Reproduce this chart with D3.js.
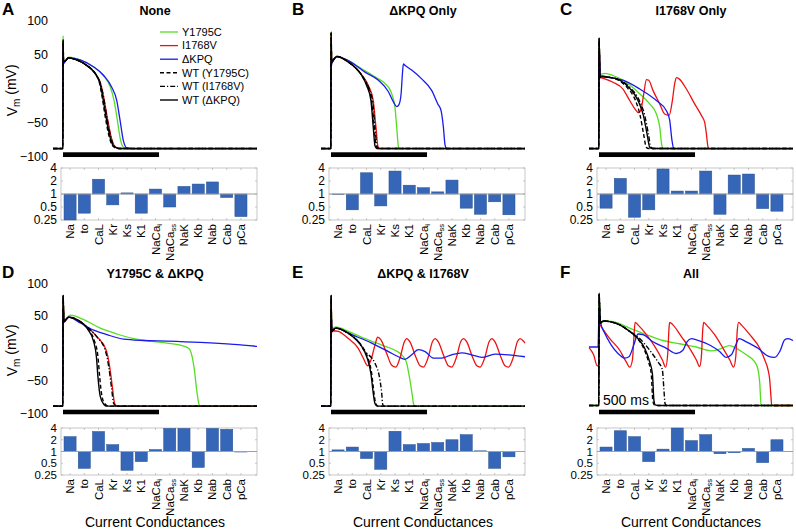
<!DOCTYPE html>
<html><head><meta charset="utf-8">
<script src="https://cdn.jsdelivr.net/npm/d3@7"></script>
<style>body{margin:0;background:#fff}</style>
</head><body>
<script>
// ---------- DATA ----------
const categories = ["Na","to","CaL","Kr","Ks","K1","NaCa_i","NaCa_ss","NaK","Kb","Nab","Cab","pCa"];
const vTicks = [100,50,0,-50,-100];
const barTicks = [4,2,1,0.5,0.25];
const panelLetters = ["A","B","C","D","E","F"];
const panelTitles = ["None","\u0394KPQ Only","I1768V Only","Y1795C & \u0394KPQ","\u0394KPQ & I1768V","All"];
const legendLabels = ["Y1795C","I1768V","\u0394KPQ","WT (Y1795C)","WT (I1768V)","WT (\u0394KPQ)"];
const scaleBarMs = [0,500];

const barsA = [0.25,0.36,2.2,0.56,1.06,0.36,1.3,0.5,1.5,1.7,1.9,0.83,0.3];
const barsB = [0.97,0.43,3.1,0.53,3.4,1.6,1.4,1.12,2.1,0.47,0.34,0.66,0.33];
const barsC = [0.47,2.3,0.29,0.43,3.8,1.17,1.17,3.4,0.34,2.75,2.9,0.46,0.4];
const barsD = [2.4,0.37,3.25,1.5,0.33,0.55,1.12,3.9,3.9,0.39,3.9,3.7,0.97];
const barsE = [1.1,1.3,0.66,0.35,3.3,1.5,1.6,1.7,2.0,2.7,1.04,0.37,0.73];
const barsF = [1.3,3.4,2.4,0.55,1.15,4.0,1.9,2.7,0.88,0.93,1.2,0.52,2.0];

// traces: [time ms, Vm mV]
const A_Y1795C = [[-52,-89],[-1,-89],[0.5,78],[3,37],[14,41],[31,46],[89,42],[158,32],[210,19],[245,3],[266,-18],[283,-47],[300,-77],[318,-88],[345,-89],[1010,-89]];
const A_I1768V = [[-52,-89],[-1,-89],[0.5,68],[3,39],[14,41],[28,45],[71,42],[123,34],[168,22],[197,6],[212,-13],[230,-42],[251,-72],[268,-85],[296,-89],[1010,-89]];
const A_dKPQ = [[-52,-89],[-1,-89],[0.5,60],[3,37],[14,41],[31,45],[89,42],[158,32],[212,19],[253,2],[280,-18],[297,-47],[314,-77],[332,-88],[360,-89],[1010,-89]];
const A_WT_Y1795C = [[-52,-89],[-1,-89],[0.5,72],[3,39],[14,41],[28,45],[71,42],[123,34],[167,22],[190,8],[204,-13],[220,-42],[241,-72],[258,-85],[286,-89],[1010,-89]];
const A_WT_I1768V = [[-52,-89],[-1,-89],[0.5,70],[3,39],[14,41],[28,45],[71,42],[123,34],[168,22],[196,6],[211,-13],[228,-42],[249,-72],[266,-85],[294,-89],[1010,-89]];
const A_WT_dKPQ = [[-52,-89],[-1,-89],[0.5,71],[3,39],[14,41],[28,45],[71,42],[123,34],[167,22],[193,7],[207,-13],[224,-42],[245,-72],[262,-85],[290,-89],[1010,-89]];

const B_Y1795C = [[-52,-89],[-1,-89],[0.5,84],[3.5,38],[12,42],[30,47],[90,41],[160,29],[229,17],[281,7],[312,-5],[333,-28],[342,-57],[351,-86],[357,-89],[1010,-89]];
const B_I1768V = [[-52,-89],[-1,-89],[0.5,78],[3.5,39],[12,42],[30,47],[90,39],[162,19],[195,4],[220,-18],[234,-57],[244,-85],[253,-89],[1010,-89]];
const B_dKPQ = [[-52,-89],[-1,-89],[0.5,30],[4,36],[12,41],[30,47],[90,41],[177,24],[247,12],[299,-5],[325,-20],[342,-27],[354,-24],[365,-8],[372,22],[377,36],[385,34],[420,27],[472,14],[524,-3],[556,-23],[573,-33],[585,-57],[594,-84],[602,-89],[1010,-89]];
const B_WT_Y1795C = [[-52,-89],[-1,-89],[0.5,82],[3.5,39],[12,42],[30,47],[90,39],[160,19],[189,4],[212,-18],[225,-57],[234,-85],[244,-89],[1010,-89]];
const B_WT_I1768V = [[-52,-89],[-1,-89],[0.5,81],[3.5,39],[12,42],[30,47],[90,39],[161,19],[192,4],[216,-18],[229,-57],[239,-85],[248,-89],[1010,-89]];
const B_WT_dKPQ = [[-52,-89],[-1,-89],[0.5,83],[3.5,39],[12,42],[30,47],[90,39],[160,19],[186,4],[208,-18],[220,-57],[229,-85],[238,-89],[1010,-89]];

const C_Y1795C = [[-52,-89],[-1,-89],[0.5,72],[7,21],[30,22],[73,19],[142,9],[212,-8],[264,-23],[299,-38],[316,-57],[326,-82],[332,-89],[1010,-89]];
const C_I1768V = [[-52,-89],[-1,-89],[0.5,70],[7,16],[30,14],[73,9],[125,-1],[160,-18],[186,-30],[207,-36],[220,-30],[233,-8],[247,13],[259,12],[281,-3],[316,-23],[342,-38],[365,-40],[382,-18],[394,7],[403,16],[417,14],[455,-1],[498,-23],[533,-40],[550,-50],[559,-67],[568,-87],[575,-89],[1010,-89]];
const C_dKPQ = [[-52,-89],[-1,-89],[0.5,60],[7,17],[56,16],[125,12],[212,-1],[299,-18],[351,-33],[368,-47],[380,-77],[389,-89],[1010,-89]];
const C_WT_Y1795C = [[-52,-89],[-1,-89],[0.5,74],[5,16],[14,18],[40,17],[108,11],[150,0],[190,-18],[214,-40],[232,-67],[246,-87],[258,-89],[1010,-89]];
const C_WT_I1768V = [[-52,-89],[-1,-89],[0.5,73],[5,16],[14,18],[40,17],[110,12],[165,0],[210,-18],[238,-40],[257,-67],[270,-87],[283,-89],[1010,-89]];
const C_WT_dKPQ = [[-52,-89],[-1,-89],[0.5,74],[5,16],[14,18],[40,17],[108,12],[160,0],[203,-18],[231,-40],[250,-67],[264,-87],[278,-89],[1010,-89]];

const D_Y1795C = [[-52,-89],[-1,-89],[0.5,80],[5,42],[16,46],[38,51],[108,44],[194,31],[281,22],[368,15],[455,11],[542,8],[611,5],[654,0],[670,-10],[684,-33],[696,-64],[707,-85],[714,-89],[1010,-89]];
const D_I1768V = [[-52,-89],[-1,-89],[0.5,78],[5,41],[16,44],[30,48],[73,44],[125,33],[177,18],[225,-3],[243,-28],[257,-59],[269,-85],[283,-89],[1010,-89]];
const D_dKPQ = [[-52,-89],[-1,-89],[0.5,60],[5,40],[16,45],[30,48],[90,39],[160,28],[229,21],[316,14],[420,12],[542,11],[715,9],[889,6],[1010,3]];
const D_WT_Y1795C = [[-52,-89],[-1,-89],[0.5,81],[5,41],[16,44],[30,48],[73,44],[125,31],[165,10],[182,-13],[191,-44],[203,-74],[220,-86],[237,-89],[1010,-89]];
const D_WT_I1768V = [[-52,-89],[-1,-89],[0.5,80],[5,41],[16,44],[30,48],[73,44],[125,33],[175,18],[220,-3],[238,-28],[252,-59],[264,-85],[278,-89],[1010,-89]];
const D_WT_dKPQ = [[-52,-89],[-1,-89],[0.5,82],[5,41],[16,44],[30,48],[73,44],[125,31],[160,10],[174,-13],[182,-44],[194,-74],[212,-86],[229,-89],[1010,-89]];

const E_Y1795C = [[-52,-89],[-1,-89],[0.5,75],[5,28],[12,31],[24,33],[90,26],[177,15],[264,5],[333,-3],[377,-13],[394,-23],[411,-49],[424,-74],[430,-86],[437,-89],[1010,-89]];
const E_I1768V = [[-52,-89],[-1,-89],[0.5,70],[5,25],[12,27],[38,26],[90,15],[142,0],[168,-15],[191,-27],[208,-18],[229,5],[243,17],[260,13],[290,-8],[316,-26],[337,-29],[359,-15],[382,10],[394,15],[411,10],[441,-13],[464,-27],[481,-29],[507,-13],[528,10],[542,15],[559,10],[589,-13],[611,-27],[628,-29],[654,-13],[675,10],[689,15],[707,10],[736,-13],[759,-27],[776,-29],[802,-13],[823,10],[837,15],[854,10],[884,-13],[906,-27],[924,-29],[950,-13],[970,10],[984,15],[1002,11],[1010,8]];
const E_dKPQ = [[-52,-89],[-1,-89],[0.5,55],[5,27],[12,29],[30,31],[108,21],[212,8],[299,-5],[351,-13],[385,-17],[420,-10],[455,-2],[490,-5],[533,-15],[576,-15],[628,-10],[681,-7],[733,-10],[785,-14],[854,-9],[924,-10],[1010,-13]];
const E_WT_Y1795C = [[-52,-89],[-1,-89],[0.5,81],[3.5,26],[12,28],[24,31],[73,26],[125,15],[162,3],[190,-13],[212,-39],[224,-69],[233,-85],[244,-89],[1010,-89]];
const E_WT_I1768V = [[-52,-89],[-1,-89],[0.5,80],[3.5,26],[12,28],[24,31],[73,26],[125,16],[177,-5],[229,-23],[255,-49],[264,-69],[269,-86],[278,-89],[1010,-89]];
const E_WT_dKPQ = [[-52,-89],[-1,-89],[0.5,82],[3.5,26],[12,28],[24,31],[73,26],[125,15],[160,3],[186,-13],[208,-39],[220,-69],[229,-85],[240,-89],[1010,-89]];

const F_Y1795C = [[-52,-88],[-1,-88],[0.5,80],[7,39],[30,42],[73,41],[160,31],[247,21],[333,12],[420,7],[507,2],[585,-4],[637,0],[681,4],[715,0],[767,-10],[811,-21],[828,-33],[837,-54],[844,-87],[854,-88],[1010,-88]];
const F_I1768V = [[-52,1],[-28,-10],[-9,-27],[-1,-25],[1,38],[12,33],[56,15],[108,-3],[142,-21],[160,-29],[174,-18],[182,18],[188,40],[203,36],[247,21],[290,3],[330,-18],[347,-29],[358,-8],[365,33],[368,40],[385,36],[429,18],[472,0],[507,-18],[524,-28],[533,-13],[540,28],[545,40],[559,36],[602,21],[646,0],[681,-18],[701,-29],[712,-13],[720,28],[727,40],[741,36],[785,21],[837,0],[863,-18],[880,-33],[889,-49],[894,-69],[899,-87],[910,-88],[1010,-88]];
const F_dKPQ = [[-52,2],[-5,2],[0.5,59],[7,41],[30,23],[64,5],[99,-8],[134,-15],[156,-13],[181,5],[203,22],[229,21],[281,10],[351,0],[403,-8],[437,-3],[458,10],[481,15],[507,13],[576,5],[628,-5],[663,-14],[689,-10],[712,5],[729,15],[767,10],[828,0],[880,-12],[915,-14],[941,-5],[967,13],[984,15],[1010,12]];
const F_WT_Y1795C = [[-52,-88],[-1,-88],[0.5,84],[7,39],[21,42],[56,41],[108,36],[160,26],[200,15],[233,0],[258,-21],[272,-39],[280,-80],[287,-87],[305,-88],[1010,-88]];
const F_WT_I1768V = [[-52,-88],[-1,-88],[0.5,83],[7,39],[21,42],[56,41],[108,36],[160,26],[212,15],[264,-3],[307,-21],[330,-33],[337,-59],[344,-85],[351,-88],[1010,-88]];
const F_WT_dKPQ = [[-52,-88],[-1,-88],[0.5,85],[7,39],[21,42],[56,41],[108,36],[160,26],[203,15],[238,0],[264,-21],[278,-39],[286,-80],[293,-87],[310,-88],[1010,-88]];

// ---------- STYLE / LAYOUT ----------
const seriesStyle = [
  {color:"#55dd22", dash:null, w:1.3},
  {color:"#ee1111", dash:null, w:1.3},
  {color:"#1a1aee", dash:null, w:1.3},
  {color:"#000", dash:"4,2.5", w:1.4},
  {color:"#000", dash:"5,2,1.2,2", w:1.4},
  {color:"#000", dash:null, w:1.4}
];
const drawOrder = [0,1,2,3,4,5];
const panels = [
  {bars:barsA, tr:[A_Y1795C,A_I1768V,A_dKPQ,A_WT_Y1795C,A_WT_I1768V,A_WT_dKPQ]},
  {bars:barsB, tr:[B_Y1795C,B_I1768V,B_dKPQ,B_WT_Y1795C,B_WT_I1768V,B_WT_dKPQ]},
  {bars:barsC, tr:[C_Y1795C,C_I1768V,C_dKPQ,C_WT_Y1795C,C_WT_I1768V,C_WT_dKPQ]},
  {bars:barsD, tr:[D_Y1795C,D_I1768V,D_dKPQ,D_WT_Y1795C,D_WT_I1768V,D_WT_dKPQ]},
  {bars:barsE, tr:[E_Y1795C,E_I1768V,E_dKPQ,E_WT_Y1795C,E_WT_I1768V,E_WT_dKPQ]},
  {bars:barsF, tr:[F_Y1795C,F_I1768V,F_dKPQ,F_WT_Y1795C,F_WT_I1768V,F_WT_dKPQ]}
];
const colSpike = [63,331,599];
const letterX = [2,292,560];
const rowLayout = [
  {vBot:156, vTop:20.7, barTop:168, barBot:220, titleY:15},
  {vBot:413.3, vTop:283.3, barTop:428, barBot:475, titleY:278}
];
const FONT = '"Liberation Sans", Arial, Helvetica, sans-serif';
const barFill = "#3566b8";

const svg = d3.select("body").append("svg").attr("width",796).attr("height",530)
  .style("font-family",FONT);

panels.forEach((p,i)=>{
  const c = i%3, r = Math.floor(i/3);
  const s = colSpike[c], R = rowLayout[r];
  const g = svg.append("g");
  const x = d3.scaleLinear().domain([-52,1010]).range([s-10, s+194]);
  const y = d3.scaleLinear().domain([-100,100]).range([R.vBot,R.vTop]);
  const line = d3.line().x(d=>x(d[0])).y(d=>y(d[1])).curve(d3.curveMonotoneX);

  drawOrder.forEach(k=>{
    const st = seriesStyle[k];
    g.append("path").datum(p.tr[k]).attr("d",line).attr("fill","none")
      .attr("stroke",st.color).attr("stroke-width",st.w)
      .attr("stroke-dasharray",st.dash).attr("stroke-linejoin","round");
  });
  // scale bar
  g.append("rect").attr("x",x(scaleBarMs[0])).attr("width",x(scaleBarMs[1])-x(scaleBarMs[0]))
    .attr("y",y(-94.5)).attr("height",y(-101.5)-y(-94.5)).attr("fill","#000");
  if(i===5){
    g.append("text").attr("x",x(scaleBarMs[0])+4).attr("y",y(-87)).attr("font-size",14).text("500 ms");
  }
  // V axis ticks (col 0)
  if(c===0){
    const ax = d3.axisLeft(y).tickValues(vTicks).tickSize(0).tickPadding(0);
    const ag = g.append("g").attr("transform","translate(48,0)").call(ax);
    ag.select(".domain").remove();
    ag.selectAll("text").attr("font-size",12.5).attr("font-family",FONT).attr("fill","#000");
    const lab = g.append("text").attr("transform",`translate(17,${(R.vBot+R.vTop)/2+2}) rotate(-90)`)
      .attr("text-anchor","middle").attr("font-size",14);
    lab.append("tspan").text("V");
    lab.append("tspan").attr("dy","0.3em").attr("font-size",10).text("m");
    lab.append("tspan").attr("dy","-0.3em").text(" (mV)");
  }
  // title and letter
  g.append("text").attr("x",x(479)).attr("y",R.titleY).attr("text-anchor","middle")
    .attr("font-weight","bold").attr("font-size",12.5).text(panelTitles[i]);
  g.append("text").attr("x",letterX[c]).attr("y",R.titleY).attr("font-weight","bold")
    .attr("font-size",17).text(panelLetters[i]);

  // bar chart
  const boxL = s-2, boxR = s+194;
  const xb = d3.scaleBand().domain(categories).range([boxL+3, boxL+186]).paddingInner(0.15);
  const yb = d3.scaleLog().base(2).domain([0.25,4]).range([R.barBot,R.barTop]).clamp(true);
  g.append("rect").attr("x",boxL).attr("y",R.barTop).attr("width",boxR-boxL).attr("height",R.barBot-R.barTop)
    .attr("fill","none").attr("stroke","#b8b8b8").attr("stroke-width",0.8);
  categories.forEach(cat=>{
    const cx = xb(cat)+xb.bandwidth()/2;
    g.append("line").attr("x1",cx).attr("x2",cx).attr("y1",R.barTop).attr("y2",R.barTop+2).attr("stroke","#b8b8b8").attr("stroke-width",0.8);
    g.append("line").attr("x1",cx).attr("x2",cx).attr("y1",R.barBot).attr("y2",R.barBot-2).attr("stroke","#b8b8b8").attr("stroke-width",0.8);
  });
  barTicks.forEach(t=>{
    g.append("line").attr("x1",boxL).attr("x2",boxL+2).attr("y1",yb(t)).attr("y2",yb(t)).attr("stroke","#b8b8b8").attr("stroke-width",0.8);
    g.append("line").attr("x1",boxR).attr("x2",boxR-2).attr("y1",yb(t)).attr("y2",yb(t)).attr("stroke","#b8b8b8").attr("stroke-width",0.8);
  });
  g.selectAll("rect.bar").data(p.bars).enter().append("rect").attr("class","bar")
    .attr("x",(d,j)=>xb(categories[j])).attr("width",xb.bandwidth())
    .attr("y",d=>Math.min(yb(d),yb(1))).attr("height",d=>Math.abs(yb(d)-yb(1)))
    .attr("fill",barFill).attr("stroke","#28508f").attr("stroke-width",0.5);
  g.append("line").attr("x1",boxL).attr("x2",boxR).attr("y1",yb(1)).attr("y2",yb(1))
    .attr("stroke","#a0a0a0").attr("stroke-width",1);
  const bax = d3.axisLeft(yb).tickValues(barTicks).tickFormat(d=>String(d)).tickSize(0).tickPadding(0);
  const bg = g.append("g").attr("transform",`translate(${boxL-4},0)`).call(bax);
  bg.select(".domain").remove();
  bg.selectAll("text").attr("font-size",r===0?12:11.5).attr("font-family",FONT).attr("fill","#000");
  // category labels
  categories.forEach(cat=>{
    const cx = xb(cat)+xb.bandwidth()/2;
    const t = g.append("text").attr("transform",`translate(${cx+4},${R.barBot+4}) rotate(-90)`)
      .attr("text-anchor","end").attr("font-size",11.5);
    const parts = cat.split("_");
    t.append("tspan").text(parts[0]);
    if(parts[1]) t.append("tspan").attr("dy","0.3em").attr("font-size",7.5).text(parts[1]);
  });
  if(r===1){
    g.append("text").attr("x",x(479)).attr("y",527).attr("text-anchor","middle").attr("font-size",14)
      .text("Current Conductances");
  }
  // legend in A
  if(i===0){
    legendLabels.forEach((lab,k)=>{
      const st = seriesStyle[k];
      const ly = 32 + k*13.6;
      g.append("line").attr("x1",160).attr("x2",178).attr("y1",ly).attr("y2",ly)
        .attr("stroke",st.color).attr("stroke-width",st.w).attr("stroke-dasharray",st.dash);
      g.append("text").attr("x",182).attr("y",ly).attr("dy","0.35em").attr("font-size",11).text(lab);
    });
  }
});
</script>
</body></html>
